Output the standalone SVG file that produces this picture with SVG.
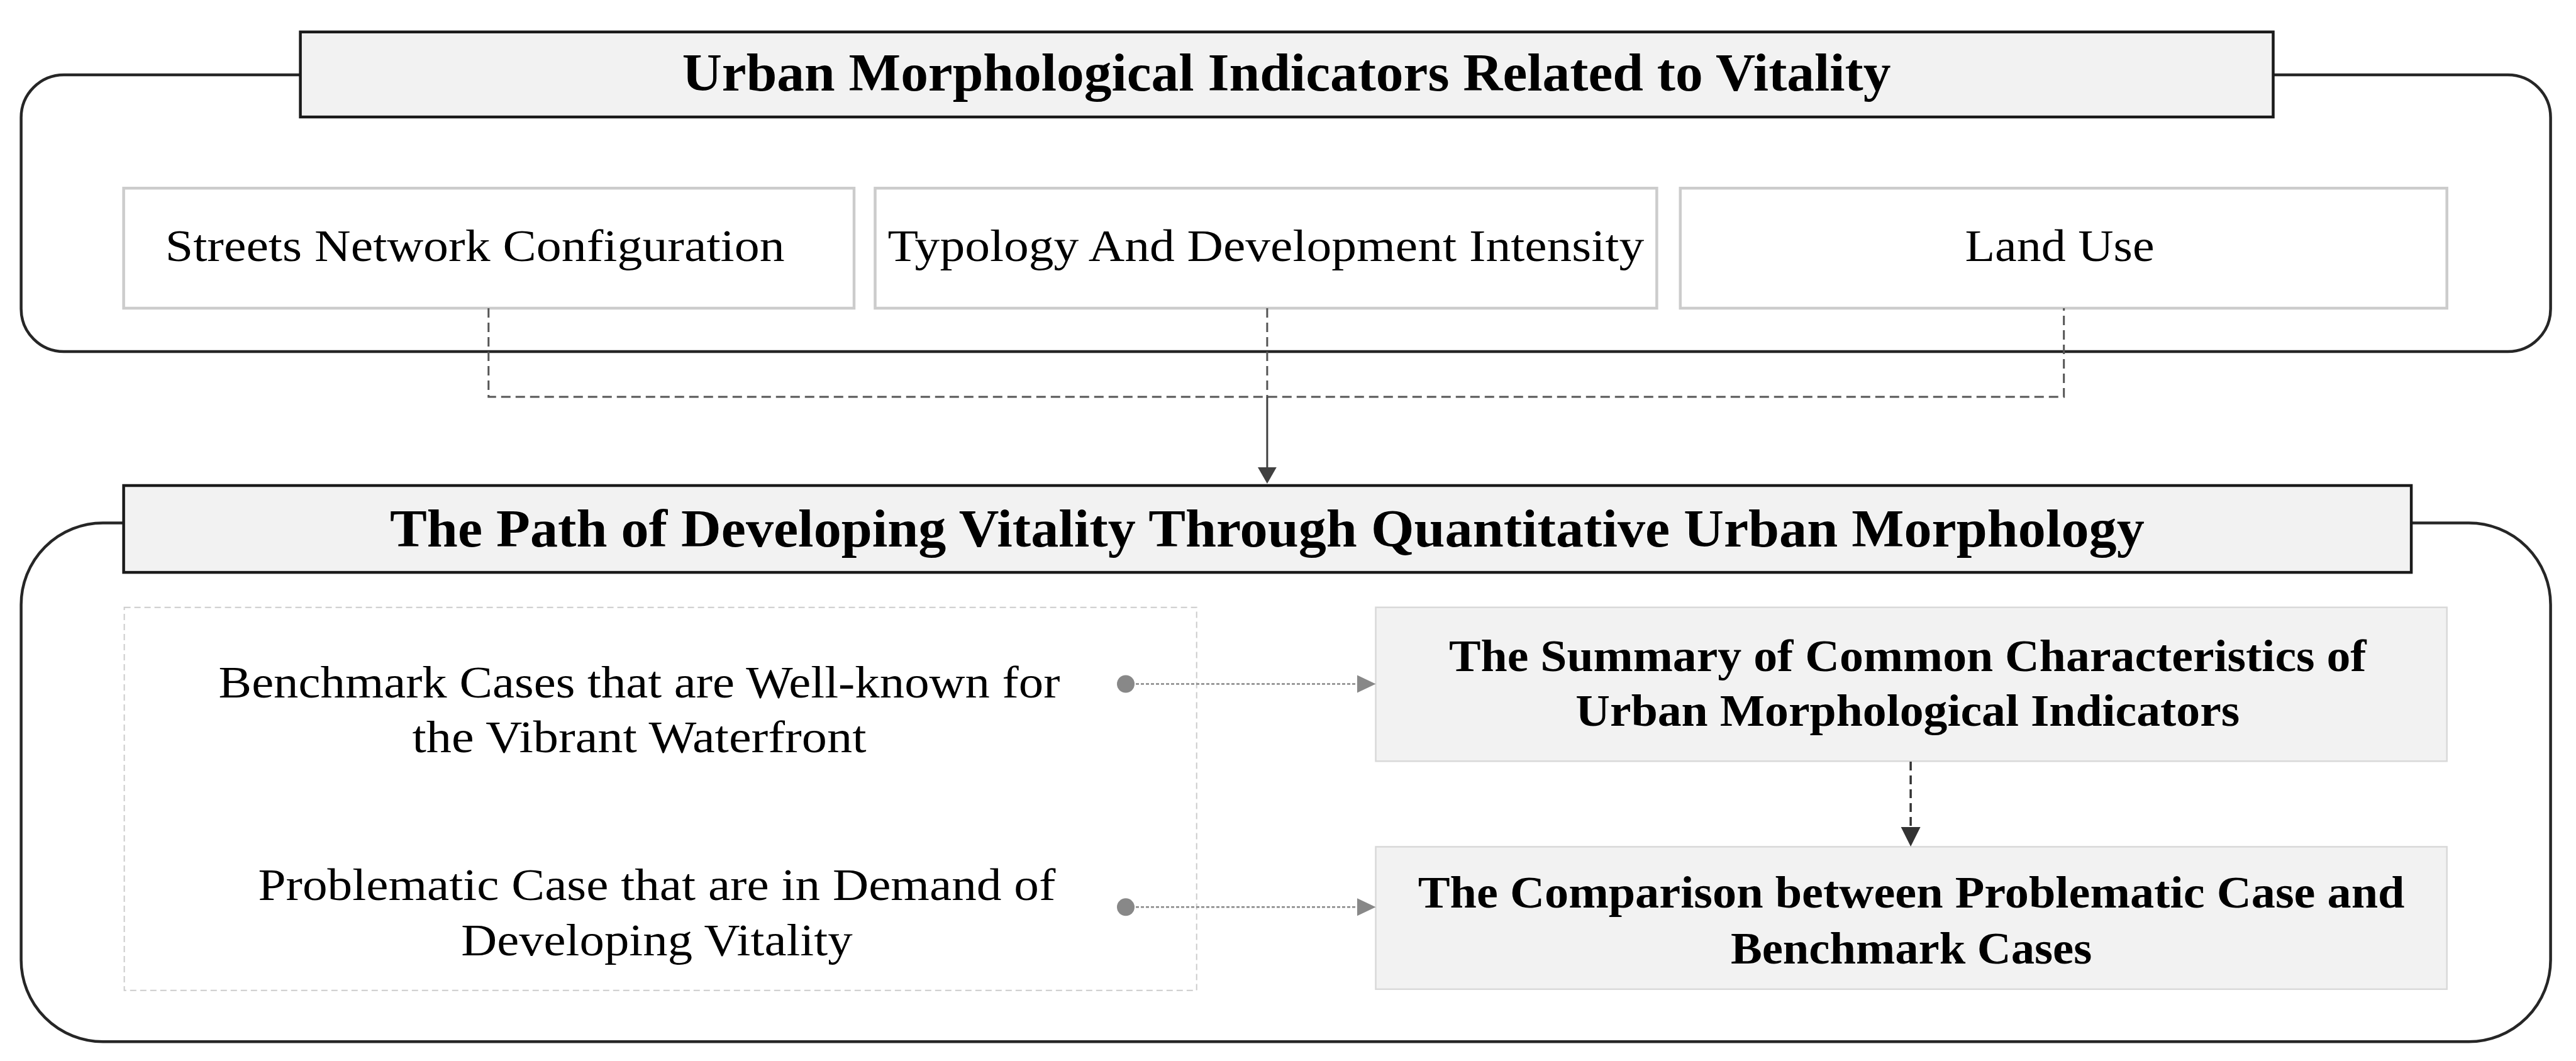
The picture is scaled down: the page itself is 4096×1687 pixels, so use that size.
<svg xmlns="http://www.w3.org/2000/svg" width="4096" height="1687" viewBox="0 0 4096 1687">
<defs>
<style>
.outer{fill:none;stroke:#262626;stroke-width:4.5}
.title{fill:#f2f2f2;stroke:#1a1a1a;stroke-width:4.5}
.ind{fill:#ffffff;stroke:#cccccc;stroke-width:4.5}
.res{fill:#f2f2f2;stroke:#d9d9d9;stroke-width:2.5}
.cont{fill:none;stroke:#cccccc;stroke-width:2;stroke-dasharray:10 6}
.t{font-family:"Liberation Serif","Times New Roman",serif;fill:#000;text-anchor:middle}
.reg{font-size:71px}
.bt{font-size:85px;font-weight:bold}
.bb{font-size:72px;font-weight:bold}
.dash{fill:none;stroke:#555;stroke-width:3;stroke-dasharray:15 8}
.solid{fill:none;stroke:#404040;stroke-width:3}
.dot{fill:none;stroke:#888;stroke-width:2.5;stroke-dasharray:5 3}
.ddark{fill:none;stroke:#333;stroke-width:3.5;stroke-dasharray:14 8}
</style>
<marker id="ahDark" markerWidth="10" markerHeight="10" refX="10" refY="5" orient="auto" markerUnits="userSpaceOnUse" viewBox="0 0 10 10">
<path d="M0,0 L10,5 L0,10 Z" fill="#404040"/>
</marker>
</defs>

<g id="top-section">
<rect class="outer" x="33.6" y="118.9" width="4022" height="440.2" rx="68" ry="68"/>
</g>
<g id="title-top">
<rect class="title" x="477.6" y="50.8" width="3136.9" height="135.2"/>
<text class="t bt" x="2045.6" y="143.9" textLength="1921.8" lengthAdjust="spacingAndGlyphs">Urban Morphological Indicators Related to Vitality</text>
</g>
<g id="node-streets">
<rect class="ind" x="196.6" y="299.2" width="1161.4" height="190.8"/>
<text class="t reg" x="755.2" y="415.2" textLength="984.9" lengthAdjust="spacingAndGlyphs">Streets Network Configuration</text>
</g>
<g id="node-typology">
<rect class="ind" x="1391.5" y="299.2" width="1242.9" height="190.8"/>
<text class="t reg" x="2012.9" y="415.2" textLength="1202.6" lengthAdjust="spacingAndGlyphs">Typology And Development Intensity</text>
</g>
<g id="node-landuse">
<rect class="ind" x="2671.8" y="299.2" width="1218.9" height="190.8"/>
<text class="t reg" x="3275" y="415.2" textLength="301.1" lengthAdjust="spacingAndGlyphs">Land Use</text>
</g>

<g id="bottom-section">
<rect class="outer" x="33.6" y="831.5" width="4022" height="824.7" rx="130" ry="130"/>
</g>
<g id="title-bottom">
<rect class="title" x="196.6" y="772" width="3637.5" height="138.1"/>
<text class="t bt" x="2014.9" y="868.9" textLength="2789.7" lengthAdjust="spacingAndGlyphs">The Path of Developing Vitality Through Quantitative Urban Morphology</text>
</g>
<g id="cases-container">
<rect class="cont" x="197.6" y="965.7" width="1705.1" height="609"/>
</g>
<g id="node-benchmark">
<text class="t reg" x="1016.5" y="1108.6" textLength="1337.8" lengthAdjust="spacingAndGlyphs">Benchmark Cases that are Well-known for</text>
<text class="t reg" x="1016.5" y="1195.9" textLength="722.1" lengthAdjust="spacingAndGlyphs">the Vibrant Waterfront</text>
</g>
<g id="node-problematic">
<text class="t reg" x="1044.4" y="1430.8" textLength="1267.8" lengthAdjust="spacingAndGlyphs">Problematic Case that are in Demand of</text>
<text class="t reg" x="1044.4" y="1519.1" textLength="622.4" lengthAdjust="spacingAndGlyphs">Developing Vitality</text>
</g>
<g id="node-summary">
<rect class="res" x="2187.5" y="965.7" width="1703.2" height="244.6"/>
<text class="t bb" x="3033.3" y="1067.4" textLength="1458.6" lengthAdjust="spacingAndGlyphs">The Summary of Common Characteristics of</text>
<text class="t bb" x="3033.3" y="1153.7" textLength="1055.9" lengthAdjust="spacingAndGlyphs">Urban Morphological Indicators</text>
</g>
<g id="node-comparison">
<rect class="res" x="2187.5" y="1346.4" width="1703.2" height="226.4"/>
<text class="t bb" x="3039.1" y="1443.3" textLength="1568.9" lengthAdjust="spacingAndGlyphs">The Comparison between Problematic Case and</text>
<text class="t bb" x="3039.1" y="1531.5" textLength="574.4" lengthAdjust="spacingAndGlyphs">Benchmark Cases</text>
</g>

<g id="connectors">
<path class="dash" d="M776.8,490 V631 H3281.7 V490"/>
<path class="dash" d="M2014.9,490 V631"/>
<path class="solid" d="M2014.9,631 V745"/>
<path d="M2000,743 L2029.8,743 L2014.9,769 Z" fill="#404040"/>
<circle cx="1790" cy="1087.5" r="14" fill="#888"/>
<path class="dot" d="M1790,1087.5 H2160"/>
<path d="M2158,1073.5 L2187.5,1087.5 L2158,1101.5 Z" fill="#888"/>
<circle cx="1790" cy="1442.3" r="14" fill="#888"/>
<path class="dot" d="M1790,1442.3 H2160"/>
<path d="M2158,1428.3 L2187.5,1442.3 L2158,1456.3 Z" fill="#888"/>
<path class="ddark" d="M3038.1,1211 V1318"/>
<path d="M3022.6,1315 L3053.6,1315 L3038.1,1346 Z" fill="#333"/>
</g>
</svg>
